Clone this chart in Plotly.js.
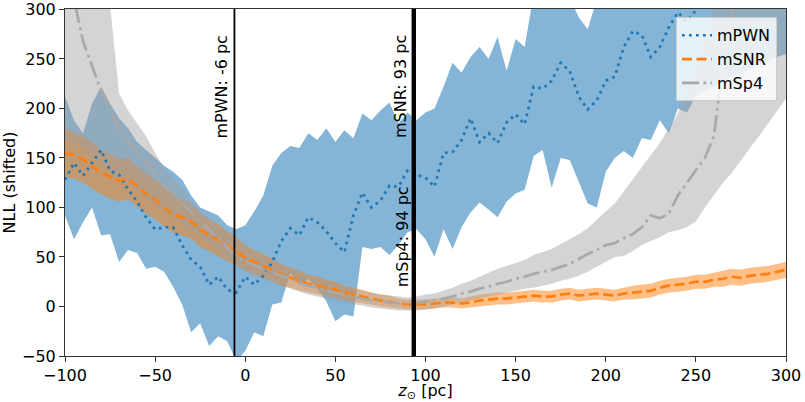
<!DOCTYPE html>
<html>
<head>
<meta charset="utf-8">
<script src="https://cdn.plot.ly/plotly-3.0.1.min.js"></script>
<style>
  html, body { margin: 0; padding: 0; background: #fff; }
  #chart { width: 805px; height: 402px; }
</style>
</head>
<body>
<div id="chart"></div>
<script>
// ═══ data ═══

const zSun = [-100, -95, -90, -85, -80, -75, -70, -65, -60, -55, -50, -45, -40, -35, -30, -25, -20, -15, -10, -5,
    0, 5, 10, 15, 20, 25, 30, 35, 40, 45, 50, 55, 60, 65, 70, 75, 80, 85, 90, 95,
    100, 105, 110, 115, 120, 125, 130, 135, 140, 145, 150, 155, 160, 165, 170, 175, 180, 185, 190, 195,
    200, 205, 210, 215, 220, 225, 230, 235, 240, 245, 250, 255, 260, 265, 270, 275, 280, 285, 290, 295, 300];

// mPWN
const pwnMid = [128, 145, 132, 145, 158, 137, 133, 118, 106, 90, 78, 80, 80, 62, 47, 40, 22, 30, 17, 14,
    30, 22, 31, 45, 66, 79, 72, 90, 85, 76, 64, 55, 92, 115, 100, 107, 122, 121, 137, 133,
    130, 121, 155, 156, 168, 190, 166, 175, 165, 186, 194, 184, 222, 220, 228, 246, 238, 212, 199, 208,
    228, 232, 262, 278, 274, 252, 262, 282, 297, 288, 299, 308, 318, 322, 330, 338, 345, 350, 358, 364, 370];
const pwnHi = [212, 188, 175, 205, 222, 205, 190, 180, 166, 158, 150, 142, 136, 128, 112, 100, 96, 92, 82, 78,
    82, 96, 112, 142, 155, 162, 160, 175, 168, 180, 166, 178, 170, 195, 188, 198, 206, 185, 196, 188,
    196, 200, 222, 246, 236, 252, 262, 250, 272, 238, 270, 262, 315, 320, 318, 320, 312, 292, 280, 310,
    320, 322, 325, 326, 328, 330, 330, 332, 334, 334, 335, 336, 336, 338, 338, 338, 340, 340, 340, 340, 340];
const pwnLo = [92, 68, 85, 100, 72, 73, 45, 57, 54, 38, 40, 35, 20, 2, -26, -17, -40, -30, -35, -55,
    -45, -26, -30, 2, 4, 34, 22, 28, 18, 5, -15, -8, -10, 60, 58, 60, 52, 62, 75, 78,
    68, 50, 78, 58, 80, 95, 105, 98, 90, 106, 114, 118, 152, 158, 120, 150, 148, 126, 104, 100,
    136, 150, 157, 150, 170, 168, 188, 175, 200, 196, 212, 218, 222, 228, 232, 236, 240, 244, 248, 252, 255];

// mSNR
const snrMid = [155, 153, 148, 142, 135, 131, 127, 129, 121, 114, 108, 100, 93, 90, 86, 77, 72, 67, 61, 56,
    49, 45, 41, 37, 32, 29, 26, 23, 21, 19, 17, 14, 12, 10, 8, 6, 5, 3, 2, 2,
    2, 3, 4, 4, 3, 4, 6, 7, 8, 8, 9, 10, 11, 10, 10, 12, 13, 11, 12, 13,
    12, 11, 13, 14, 15, 16, 19, 21, 22, 23, 25, 25, 27, 28, 30, 29, 31, 32, 33, 35, 37];
const snrHi = [180, 176, 172, 166, 158, 154, 149, 150, 141, 135, 128, 120, 112, 108, 103, 94, 88, 83, 76, 70,
    62, 57, 53, 48, 43, 39, 36, 32, 30, 27, 25, 21, 19, 17, 14, 12, 11, 8, 7, 7,
    7, 8, 9, 9, 8, 10, 12, 13, 14, 14, 15, 16, 17, 16, 16, 18, 19, 17, 18, 19,
    18, 17, 19, 21, 22, 23, 26, 28, 29, 30, 32, 32, 34, 36, 38, 37, 39, 40, 41, 43, 45];
const snrLo = [131, 129, 125, 119, 113, 109, 106, 108, 101, 94, 88, 81, 74, 72, 69, 60, 56, 51, 46, 42,
    36, 33, 29, 26, 21, 19, 16, 14, 12, 11, 9, 7, 5, 3, 2, 0, -1, -2, -3, -3,
    -3, -2, -1, -1, -2, -1, 0, 1, 2, 2, 3, 4, 5, 4, 4, 6, 7, 5, 6, 7,
    6, 5, 7, 7, 8, 9, 12, 14, 15, 16, 18, 18, 20, 20, 22, 21, 23, 24, 25, 27, 29];

// mSp4
const sp4Mid = [330, 310, 268, 242, 218, 200, 178, 166, 157, 145, 132, 122, 114, 104, 95, 86, 77, 68, 59, 51,
    46, 42, 38, 35, 31, 28, 24, 21, 19, 16, 14, 12, 10, 8, 6, 5, 4, 3, 3, 3,
    5, 6, 8, 10, 13, 15, 18, 20, 23, 25, 28, 30, 33, 35, 37, 40, 43, 48, 53, 57,
    62, 64, 69, 73, 80, 92, 89, 94, 112, 125, 137, 150, 172, 245, 295, 330, 350, 370, 385, 400, 410];
const sp4Hi = [400, 380, 360, 340, 320, 305, 215, 198, 185, 172, 155, 140, 130, 120, 106, 97, 88, 80, 75, 69,
    62, 55, 50, 46, 42, 38, 34, 31, 28, 25, 23, 20, 18, 16, 14, 12, 11, 10, 9, 10,
    12, 13, 16, 19, 23, 26, 30, 34, 38, 41, 44, 47, 52, 55, 58, 63, 68, 73, 79, 88,
    96, 104, 116, 128, 140, 152, 165, 180, 195, 215, 240, 270, 300, 330, 350, 360, 370, 380, 390, 400, 410];
const sp4Lo = [170, 165, 160, 152, 145, 138, 130, 125, 118, 110, 103, 96, 90, 84, 77, 70, 63, 56, 49, 42,
    35, 30, 27, 24, 21, 18, 15, 12, 10, 8, 6, 4, 2, 1, -1, -2, -3, -4, -4, -4,
    -3, -2, 0, 2, 4, 6, 8, 10, 12, 14, 16, 18, 19, 21, 23, 26, 28, 31, 35, 40,
    45, 50, 51, 56, 62, 66, 70, 75, 77, 80, 86, 100, 112, 125, 135, 148, 160, 172, 185, 198, 210];

const models = ["mPWN", "mSNR", "mSp4"];
const bestFit = [-6, 93, 94];
const xTicks = [-100, -50, 0, 50, 100, 150, 200, 250, 300];
const yTicks = [-50, 0, 50, 100, 150, 200, 250, 300];

// ═══ styling ═══

const C = { blue: "#1f77b4", orange: "#ff7f0e", gray: "#a9a9a9" };
const F = "DejaVu Sans, Liberation Sans, sans-serif";

function band(lo, hi, fill) {
    return [
        { x: zSun, y: lo, mode: "lines", line: { width: 0 }, showlegend: false, hoverinfo: "skip" },
        { x: zSun, y: hi, mode: "lines", line: { width: 0 }, fill: "tonexty", fillcolor: fill, showlegend: false, hoverinfo: "skip" }
    ];
}

const traces = [
    ...band(pwnLo, pwnHi, "rgba(31,119,180,0.55)"),
    ...band(snrLo, snrHi, "rgba(255,127,14,0.5)"),
    ...band(sp4Lo, sp4Hi, "rgba(160,160,160,0.45)"),
    { x: zSun, y: pwnMid, mode: "lines", name: models[0], line: { color: C.blue, width: 2.7, dash: "2.7px,4.3px" } },
    { x: zSun, y: snrMid, mode: "lines", name: models[1], line: { color: C.orange, width: 2.7, dash: "10px,4.5px" } },
    { x: zSun, y: sp4Mid, mode: "lines", name: models[2], line: { color: C.gray, width: 2.7, dash: "17px,4.5px,2.7px,4.5px" } }
];

const labelY = [222, 222, 70];
const shapes = bestFit.map((v, i) => ({
    type: "line", xref: "x", yref: "paper", x0: v, x1: v, y0: 0, y1: 1,
    line: { color: "#000", width: i === 0 ? 1.8 : 2.6 }
}));
const annotations = bestFit.map((v, i) => ({
    x: v, y: labelY[i], xref: "x", yref: "y", text: models[i] + ": " + v + " pc",
    textangle: -90, showarrow: false, xanchor: "right", yanchor: "middle", xshift: -1,
    font: { family: F, size: 16, color: "#000" }
}));

const ax = {
    showgrid: false, zeroline: false, showline: true, mirror: true, linecolor: "#333", linewidth: 1,
    ticks: "outside", ticklen: 5, tickwidth: 1, tickcolor: "#333",
    tickfont: { family: F, size: 16, color: "#000" }
};

const layout = {
    width: 805, height: 402,
    margin: { l: 65, r: 19, t: 9, b: 46 },
    paper_bgcolor: "#fff", plot_bgcolor: "#fff",
    font: { family: F, size: 16, color: "#000" },
    xaxis: { ...ax, range: [-100, 300], tickvals: xTicks,
        title: { text: "<i>z</i><sub>⊙</sub> [pc]", font: { family: F, size: 16 }, standoff: 2 } },
    yaxis: { ...ax, range: [-50, 300.4], tickvals: yTicks,
        title: { text: "NLL (shifted)", font: { family: F, size: 16 }, standoff: 6 } },
    shapes, annotations,
    showlegend: true,
    legend: {
        x: 0.9875, xanchor: "right", y: 0.976, yanchor: "top", traceorder: "normal",
        bgcolor: "rgba(255,255,255,0.8)", bordercolor: "#cccccc", borderwidth: 1,
        font: { family: F, size: 16, color: "#000" }, tracegroupgap: 0
    }
};

Plotly.newPlot("chart", traces, layout, { displayModeBar: false, staticPlot: true });
</script>
</body>
</html>
